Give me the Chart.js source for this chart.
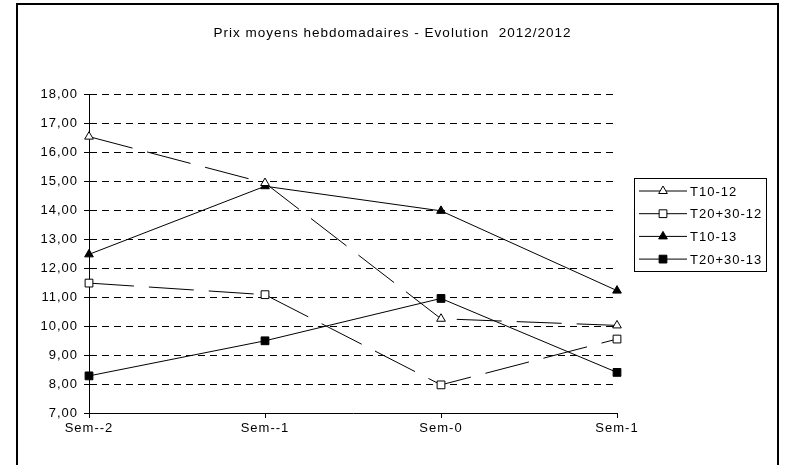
<!DOCTYPE html>
<html>
<head>
<meta charset="utf-8">
<script src="https://cdn.jsdelivr.net/npm/chart.js@4.4.1/dist/chart.umd.min.js"></script>
<style>
  html, body { margin: 0; padding: 0; background: #fff; }
  #frame { position: absolute; left: 16px; top: 3px; width: 763px; height: 480px; border: 2px solid #000; box-sizing: border-box; }
  #wrap { position: absolute; left: 0; top: 0; width: 785px; height: 465px; }
</style>
</head>
<body>
<div id="frame"></div>
<div id="wrap"><canvas id="chart" width="785" height="465"></canvas></div>
<script>
const weeks = ['Sem--2', 'Sem--1', 'Sem-0', 'Sem-1'];
const t10_12 = [16.53, 14.93, 10.25, 10.02];
const t2030_12 = [11.48, 11.08, 7.97, 9.55];
const t10_13 = [12.47, 14.82, 13.97, 11.22];
const t2030_13 = [8.28, 9.49, 10.95, 8.40];
const yMin = 7;
const yMax = 18;

const font = { family: '"Liberation Sans", Arial, sans-serif', size: 13 };

// draws one marker like the chart's own points
const drawMarker = (ctx, style, fill, x, y, r) => {
  ctx.beginPath();
  if (style === 'triangle') {
    ctx.moveTo(x, y - r);
    ctx.lineTo(x + r * Math.sin(2 * Math.PI / 3), y - r * Math.cos(2 * Math.PI / 3));
    ctx.lineTo(x + r * Math.sin(4 * Math.PI / 3), y - r * Math.cos(4 * Math.PI / 3));
    ctx.closePath();
  } else {
    const s = Math.SQRT1_2 * r;
    ctx.rect(x - s, y - s, 2 * s, 2 * s);
  }
  ctx.fillStyle = fill;
  ctx.fill();
  ctx.lineWidth = 1;
  ctx.strokeStyle = '#000';
  ctx.stroke();
};

const textSpacing = {
  id: 'textSpacing',
  beforeUpdate(chart) { chart.ctx.letterSpacing = '1px'; },
  beforeDraw(chart) { chart.ctx.letterSpacing = '1px'; }
};

const legendBox = {
  id: 'legendBox',
  afterDraw(chart) {
    const { ctx, chartArea } = chart;
    const left = chartArea.right + 17;
    const top = 178;
    const w = 132;
    const h = 93;
    ctx.save();
    ctx.fillStyle = '#fff';
    ctx.fillRect(left, top, w, h);
    ctx.lineWidth = 1;
    ctx.strokeStyle = '#000';
    ctx.strokeRect(left + 0.5, top + 0.5, w, h);
    chart.data.datasets.forEach((ds, i) => {
      const y = top + 13 + i * 22.7;
      ctx.beginPath();
      ctx.moveTo(left + 5, y);
      ctx.lineTo(left + 53, y);
      ctx.lineWidth = 1;
      ctx.strokeStyle = '#000';
      ctx.stroke();
      drawMarker(ctx, ds.pointStyle, ds.pointBackgroundColor, left + 29, y, ds.pointRadius);
      ctx.fillStyle = '#000';
      ctx.font = `${font.size}px ${font.family}`;
      ctx.textAlign = 'left';
      ctx.textBaseline = 'middle';
      ctx.fillText(ds.label, left + 56, y + 1);
    });
    ctx.restore();
  }
};

const series = (label, values, style, fill, dash, r) => ({
  label: label,
  data: values,
  borderColor: '#000',
  borderWidth: 1,
  borderDash: dash,
  pointStyle: style,
  pointRadius: r,
  pointHoverRadius: r,
  pointBackgroundColor: fill,
  pointBorderColor: '#000',
  pointBorderWidth: 1,
  tension: 0,
  fill: false
});

const chart = new Chart(document.getElementById('chart'), {
  type: 'line',
  data: {
    labels: weeks,
    datasets: [
      series('T10-12', t10_12, 'triangle', '#fff', [45, 15], 5),
      series('T20+30-12', t2030_12, 'rect', '#fff', [45, 15], 5.5),
      series('T10-13', t10_13, 'triangle', '#000', [], 5),
      series('T20+30-13', t2030_13, 'rect', '#000', [], 5.5)
    ]
  },
  options: {
    responsive: false,
    animation: false,
    events: [],
    layout: { padding: 0 },
    plugins: {
      legend: { display: false },
      tooltip: { enabled: false },
      title: {
        display: true,
        text: 'Prix moyens hebdomadaires - Evolution  2012/2012',
        color: '#000',
        font: { family: font.family, size: 13.5, weight: 'normal' },
        padding: { top: 25, bottom: 52.8 }
      }
    },
    scales: {
      x: {
        offset: false,
        border: { display: true, color: '#000', width: 1 },
        grid: { drawOnChartArea: false, drawTicks: true, tickLength: 5, color: '#000' },
        ticks: { color: '#000', font: font, padding: 3, maxRotation: 0, autoSkip: false },
        afterFit(scale) {
          scale.height = 52;
          scale.paddingLeft = 0;
          scale.paddingRight = 0;
        }
      },
      y: {
        min: yMin,
        max: yMax,
        border: { display: true, color: '#000', width: 1, dash: [7, 5] },
        grid: { color: '#000', lineWidth: 1, tickLength: 5, tickBorderDash: [], tickColor: '#000' },
        ticks: {
          stepSize: 1,
          color: '#000',
          font: font,
          padding: 6,
          callback: (v) => v.toFixed(2).replace('.', ',')
        },
        afterFit(scale) {
          scale.width = 89;
          scale.paddingTop = 0;
          scale.paddingBottom = 0;
        }
      },
      // empty right axis: keeps the space where the legend box sits
      legendSpace: {
        type: 'linear',
        position: 'right',
        min: yMin,
        max: yMax,
        border: { display: false },
        grid: { display: false, drawOnChartArea: false },
        ticks: { display: false },
        afterFit(scale) {
          scale.width = 168;
          scale.paddingTop = 0;
          scale.paddingBottom = 0;
        }
      }
    }
  },
  plugins: [textSpacing, legendBox]
});
</script>
</body>
</html>
